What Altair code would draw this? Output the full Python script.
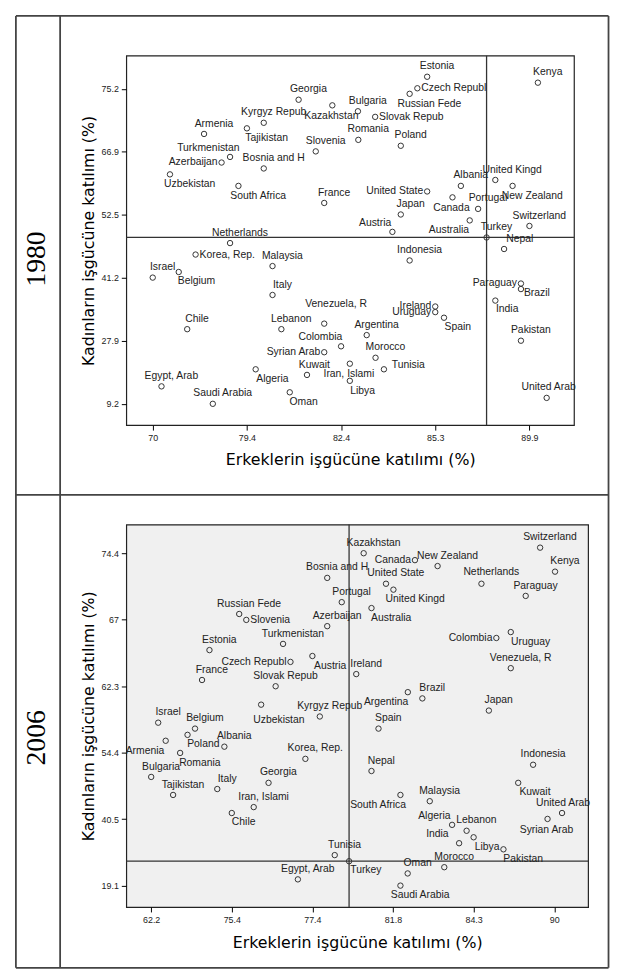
import altair as alt
import pandas as pd

# ---------------- data (positions in axis-tick units) ----------------
X_TICKS_1980 = ["70", "79.4", "82.4", "85.3", "89.9"]
Y_TICKS_1980 = ["9.2", "27.9", "41.2", "52.5", "66.9", "75.2"]
X_TICKS_2006 = ["62.2", "75.4", "77.4", "81.8", "84.3", "90"]
Y_TICKS_2006 = ["19.1", "40.5", "54.4", "62.3", "67", "74.4"]

NAMES_1980 = ["Estonia", "Czech Republ", "Russian Fede", "Kenya", "Georgia", "Kazakhstan",
              "Bulgaria", "Slovak Repub", "Kyrgyz Repub", "Tajikistan", "Armenia", "Romania",
              "Poland", "Slovenia", "Turkmenistan", "Azerbaijan", "Bosnia and H", "Uzbekistan",
              "South Africa", "France", "United State", "Albania", "United Kingd", "New Zealand",
              "Canada", "Portugal", "Japan", "Australia", "Switzerland", "Austria", "Turkey",
              "Nepal", "Netherlands", "Korea, Rep.", "Indonesia", "Malaysia", "Israel", "Belgium",
              "Paraguay", "Brazil", "Italy", "India", "Ireland", "Uruguay", "Spain",
              "Venezuela, R", "Chile", "Lebanon", "Argentina", "Pakistan", "Colombia",
              "Syrian Arab", "Morocco", "Kuwait", "Iran, Islami", "Libya", "Tunisia", "Algeria",
              "Egypt, Arab", "Oman", "Saudi Arabia", "United Arab"]
X_1980 = [2.914, 2.810, 2.728, 4.090, 1.549, 1.907,
          2.179, 2.362, 1.179, 1.000, 0.545, 2.183,
          2.634, 1.731, 0.821, 0.731, 1.179, 0.183,
          0.910, 1.821, 2.914, 3.272, 3.638, 3.821,
          3.183, 3.455, 2.634, 3.366, 4.000, 2.545, 3.545,
          3.731, 0.821, 0.455, 2.728, 1.272, 0.000, 0.276,
          3.910, 3.910, 1.272, 3.638, 3.000, 3.000, 3.093,
          1.821, 0.366, 1.366, 2.272, 3.910, 2.000,
          1.821, 2.366, 1.638, 2.093, 2.093, 2.455, 1.093,
          0.093, 1.455, 0.638, 4.183]
Y_1980 = [5.193, 5.010, 4.922, 5.099, 4.828, 4.739,
          4.645, 4.556, 4.462, 4.374, 4.285, 4.191,
          4.097, 4.008, 3.920, 3.831, 3.737, 3.643,
          3.460, 3.189, 3.372, 3.460, 3.554, 3.460,
          3.278, 3.095, 3.006, 2.912, 2.824, 2.730, 2.641,
          2.458, 2.552, 2.370, 2.276, 2.187, 2.004, 2.093,
          1.910, 1.822, 1.728, 1.639, 1.545, 1.456, 1.367,
          1.273, 1.185, 1.185, 1.091, 1.002, 0.913,
          0.819, 0.731, 0.459, 0.637, 0.365, 0.548, 0.548,
          0.277, 0.183, 0.000, 0.094]

NAMES_2006 = ["Switzerland", "Kazakhstan", "Canada", "New Zealand", "Kenya", "Bosnia and H",
              "United State", "United Kingd", "Netherlands", "Paraguay", "Portugal",
              "Russian Fede", "Slovenia", "Australia", "Azerbaijan", "Colombia", "Uruguay",
              "Estonia", "Turkmenistan", "Czech Republ", "Austria", "Ireland", "Venezuela, R",
              "France", "Slovak Repub", "Brazil", "Argentina", "Uzbekistan", "Kyrgyz Repub",
              "Japan", "Israel", "Spain", "Belgium", "Poland", "Armenia", "Albania", "Romania",
              "Korea, Rep.", "Bulgaria", "Nepal", "Indonesia", "Georgia", "Kuwait", "Italy",
              "Tajikistan", "South Africa", "Malaysia", "Iran, Islami", "Chile", "United Arab",
              "Syrian Arab", "Algeria", "Lebanon", "Libya", "India", "Pakistan", "Morocco",
              "Oman", "Saudi Arabia", "Turkey", "Egypt, Arab", "Tunisia"]
X_2006 = [4.825, 2.636, 3.272, 3.553, 5.010, 2.184,
          2.913, 3.005, 4.097, 4.646, 2.364,
          1.092, 1.180, 2.733, 2.184, 4.282, 4.461,
          0.723, 1.636, 1.728, 2.000, 2.544, 4.461,
          0.631, 1.544, 3.364, 3.184, 1.364, 2.092,
          4.189, 0.087, 2.820, 0.544, 0.451, 0.180, 0.908, 0.359,
          1.913, 0.000, 2.733, 4.738, 1.456, 4.553, 0.820,
          0.272, 3.092, 3.456, 1.272, 1.000, 5.097,
          4.917, 3.733, 3.913, 4.000, 3.820, 4.370, 3.636,
          3.182, 3.092, 2.455, 1.820, 2.277]
Y_2006 = [5.084, 5.000, 4.896, 4.807, 4.723, 4.629,
          4.541, 4.452, 4.541, 4.358, 4.264,
          4.086, 3.997, 4.175, 3.903, 3.725, 3.814,
          3.543, 3.636, 3.365, 3.454, 3.182, 3.271,
          3.093, 2.999, 2.816, 2.910, 2.722, 2.544,
          2.633, 2.451, 2.362, 2.362, 2.268, 2.179, 2.090, 1.996,
          1.907, 1.635, 1.724, 1.818, 1.546, 1.546, 1.453,
          1.364, 1.364, 1.270, 1.181, 1.092, 1.092,
          1.003, 0.914, 0.825, 0.727, 0.638, 0.546, 0.277,
          0.183, 0.000, 0.367, 0.094, 0.459]

REF_1980 = "Turkey"
REF_2006 = "Turkey"

# ---------------- label placement styles (align, dx px, dy px) ----------------
T = ("center", 10, -10.5)
B = ("center", 20, 10)
B0 = ("center", -1, 10.5)
TL = ("center", -20, -9)
BL = ("center", -21, 10)
L = ("right", -4, 0)
R = ("left", 4, 0)

LABEL_1980 = {
    "Czech Republ": R, "Russian Fede": B, "Kazakhstan": B0, "Slovak Repub": R,
    "Tajikistan": B, "Turkmenistan": ("center", -22, -9), "Azerbaijan": L, "Uzbekistan": B,
    "South Africa": B, "United State": L, "United Kingd": ("center", 17, -10.5),
    "New Zealand": B, "Canada": B0, "Australia": BL, "Austria": ("center", -17.5, -9),
    "Nepal": ("center", 16, -10.5), "Korea, Rep.": R, "Belgium": ("center", 18, 9.5),
    "Paraguay": L, "Brazil": ("left", 3, 4), "India": ("center", 12, 9), "Ireland": L,
    "Uruguay": L, "Spain": ("center", 14, 9.5), "Venezuela, R": ("center", 12, -20),
    "Colombia": ("center", -21, -9), "Syrian Arab": L, "Kuwait": ("center", 7.5, -10.5),
    "Iran, Islami": B0, "Libya": ("center", 13, 10), "Tunisia": ("left", 8, -4.7),
    "Algeria": ("center", 17, 10), "Oman": ("center", 14, 9.5), "United Arab": ("center", 2, -10.5),
}
LABEL_2006 = {
    "Canada": L, "United Kingd": ("center", 22, 10), "Netherlands": ("center", 10, -12),
    "Slovenia": R, "Australia": B, "Colombia": L, "Uruguay": B, "Czech Republ": L,
    "Austria": ("center", 18, 10), "Argentina": ("center", -22, 10),
    "Uzbekistan": ("center", 18, 15.7), "Poland": ("center", 16, 9), "Armenia": BL,
    "Romania": B, "Kuwait": ("center", 17, 9), "South Africa": ("center", -22.6, 10),
    "Chile": ("center", 12, 9.3), "United Arab": ("center", 1, -10.5), "Syrian Arab": ("center", -1, 11),
    "Algeria": ("center", -18, -8.7), "Libya": ("center", 13.7, 10), "India": ("center", -22, -9.3),
    "Pakistan": B, "Saudi Arabia": B, "Turkey": ("center", 17, 9),
}

# ---------------- geometry ----------------
W1, H1 = 453.5, 374.3
W2, H2 = 467.8, 387.4
XD1, YD1 = [-0.281, 4.473], [-0.339, 5.528]
XD2, YD2 = [-0.309, 5.420], [-0.322, 5.431]

LABEL_FONT = "Liberation Sans"
TITLE_FONT = "DejaVu Sans"


def build_df(names, xs, ys, labels, W, H, XD, YD):
    kx = W / (XD[1] - XD[0])
    ky = H / (YD[1] - YD[0])
    rows = []
    for n, x, y in zip(names, xs, ys):
        al, dx, dy = labels.get(n, T)
        rows.append({"name": n, "x": x, "y": y, "lx": x + dx / kx, "ly": y - dy / ky, "align": al})
    return pd.DataFrame(rows)


def panel(names, xs, ys, labels, W, H, XD, YD, xt, yt, ref, fill, xtitle_pad):
    df = build_df(names, xs, ys, labels, W, H, XD, YD)
    xs_ = alt.Scale(domain=XD, nice=False, zero=False)
    ys_ = alt.Scale(domain=YD, nice=False, zero=False)
    xexpr = "[" + ",".join("'%s'" % t for t in xt) + "][round(datum.value)]"
    yexpr = "[" + ",".join("'%s'" % t for t in yt) + "][round(datum.value)]"
    common = dict(grid=False, domain=False, tickSize=5, tickColor="black", tickWidth=1,
                  labelFont=LABEL_FONT, labelFontSize=9, labelColor="#222222",
                  titleFont=TITLE_FONT, titleFontSize=16, titleFontWeight="normal",
                  titleColor="black")
    xaxis = alt.Axis(values=list(range(len(xt))), labelExpr=xexpr,
                     title="Erkeklerin işgücüne katılımı (%)", labelPadding=4,
                     titlePadding=xtitle_pad, **common)
    yaxis = alt.Axis(values=list(range(len(yt))), labelExpr=yexpr,
                     title="Kadınların işgücüne katılımı (%)", labelPadding=3,
                     titlePadding=5, **common)
    refdf = df[df["name"] == ref][["x", "y"]]

    vrule = alt.Chart(refdf).mark_rule(color="#333333", strokeWidth=1.3).encode(
        x=alt.X("x:Q", scale=xs_, axis=xaxis))
    hrule = alt.Chart(refdf).mark_rule(color="#333333", strokeWidth=1.3).encode(
        y=alt.Y("y:Q", scale=ys_, axis=yaxis))
    pts = alt.Chart(df).mark_point(shape="circle", filled=False, size=30, opacity=1,
                                   color="#333333", strokeWidth=1).encode(
        x=alt.X("x:Q", scale=xs_, axis=xaxis), y=alt.Y("y:Q", scale=ys_, axis=yaxis))
    texts = []
    for a in ["left", "center", "right"]:
        texts.append(alt.Chart(df).transform_filter(alt.datum.align == a).mark_text(
            align=a, baseline="middle", font=LABEL_FONT, fontSize=10.5, color="#222222").encode(
            x=alt.X("lx:Q", scale=xs_, axis=xaxis), y=alt.Y("ly:Q", scale=ys_, axis=yaxis),
            text="name:N"))
    return alt.layer(vrule, hrule, pts, *texts).properties(
        width=W, height=H, view=alt.ViewBackground(fill=fill, stroke="#222222", strokeWidth=1.2))


p1 = panel(NAMES_1980, X_1980, Y_1980, LABEL_1980, W1, H1, XD1, YD1,
           X_TICKS_1980, Y_TICKS_1980, REF_1980, "white", 9)
p2 = panel(NAMES_2006, X_2006, Y_2006, LABEL_2006, W2, H2, XD2, YD2,
           X_TICKS_2006, Y_TICKS_2006, REF_2006, "#f0f0f0", 10)

# ---------------- table frame and year labels (drawn relative to the first panel) ----------------
one = pd.DataFrame({"k": [0]})
LC = "#444444"
LW = 1.8
left, mid, right = -111.8, -67.0, 488.5
top, rowdiv, bottom = -40.25, 445.0, 924.0


def hline(y, x0, x1):
    return alt.Chart(one).mark_rule(color=LC, strokeWidth=LW).encode(
        x=alt.value(x0), x2=alt.value(x1), y=alt.value(y))


def vline(x, y0, y1):
    return alt.Chart(one).mark_rule(color=LC, strokeWidth=LW).encode(
        x=alt.value(x), y=alt.value(y0), y2=alt.value(y1))


def year(txt, y):
    return alt.Chart(one).mark_text(angle=270, font="Liberation Serif", fontSize=28,
                                    color="black", align="center", baseline="middle").encode(
        x=alt.value(-90.8), y=alt.value(y), text=alt.value(txt))


decor = [hline(top, left, right), hline(rowdiv, left, right), hline(bottom, left, right),
         vline(left, top, bottom), vline(mid, top, bottom), vline(right, top, bottom),
         year("1980", 206), year("2006", 691)]

p1 = alt.layer(p1, *decor)

chart = alt.vconcat(p1, p2, spacing=100, bounds="flush").properties(
    padding={"left": 5.8, "top": 0, "right": 0, "bottom": 0},
    background="white",
).configure_view(strokeWidth=1.2)

chart.save("out.html", embed_options={"renderer": "svg", "actions": False})
